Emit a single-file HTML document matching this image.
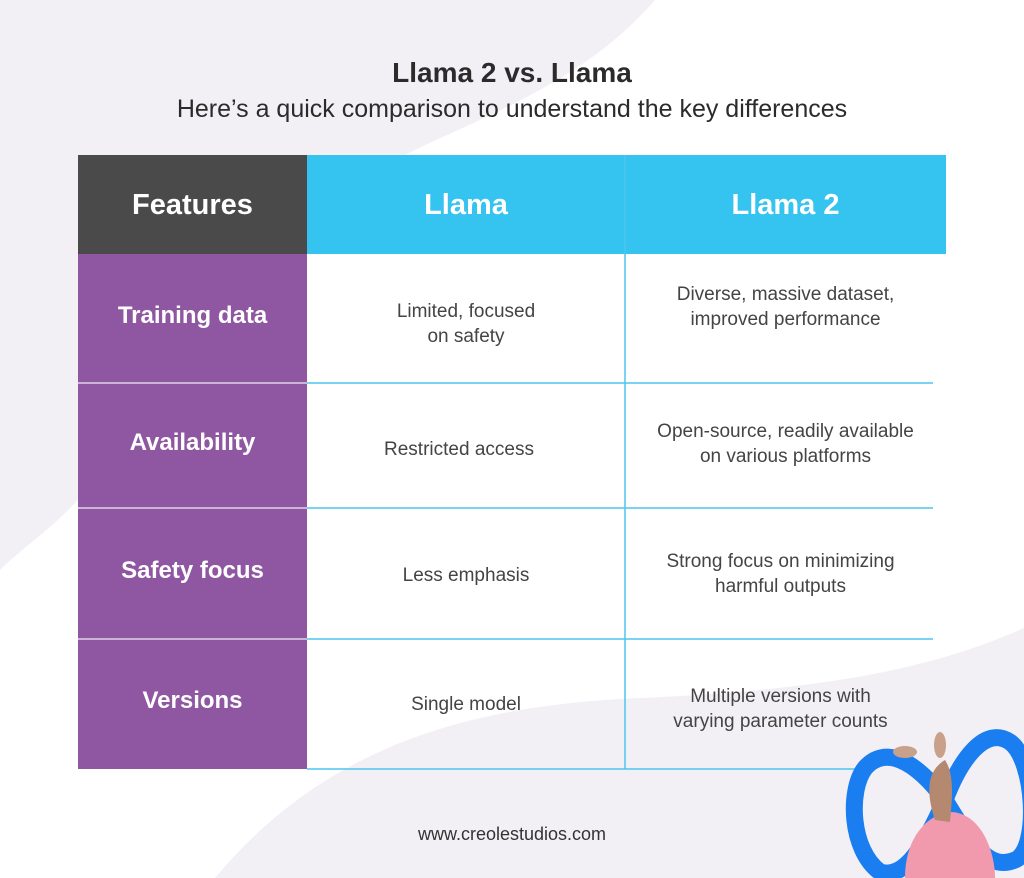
<!DOCTYPE html>
<html><head><meta charset="utf-8"><style>
body{margin:0;width:1024px;height:878px;overflow:hidden;background:#fff;position:relative;font-family:"Liberation Sans",sans-serif}
.a{position:absolute}
.t{position:absolute;text-align:center;display:flex;align-items:center;justify-content:center;line-height:1.3}
.h{color:#fff;font-weight:bold;font-size:29px}
.f{color:#fff;font-size:24px;font-weight:bold}
.c{color:#444;font-size:19px}
</style></head><body>
<svg class="a" style="left:0;top:0" width="1024" height="878">
<path d="M0,0 L655,0 C560,110 420,130 330,200 C250,270 150,430 78,500 C50,530 20,550 0,570 Z" fill="#f3f0f5"/>
<path d="M215,878 C330,740 480,705 640,698 C820,690 930,670 1024,628 L1024,878 Z" fill="#f3f0f5"/>
<rect x="78" y="155" width="229" height="99" fill="#4a4a4a"/>
<rect x="307" y="155" width="639" height="99" fill="#35c3ef"/>
<rect x="78" y="254" width="229" height="515" fill="#8f57a1"/>
<g stroke="#e0d3e6" stroke-width="1.5"><line x1="78" y1="383" x2="307" y2="383"/><line x1="78" y1="508" x2="307" y2="508"/><line x1="78" y1="639" x2="307" y2="639"/></g>
<g stroke="#4cc6ee" stroke-width="1.5" fill="none">
<line x1="625" y1="155" x2="625" y2="769"/>
<line x1="307" y1="383" x2="933" y2="383"/><line x1="307" y1="508" x2="933" y2="508"/><line x1="307" y1="639" x2="933" y2="639"/><line x1="307" y1="769" x2="860" y2="769"/>
</g>
<path d="M880,872 C850,850 848,790 865,768 C885,745 915,760 945,800 C975,850 990,870 1015,860 C1040,850 1035,760 1010,742 C985,725 960,760 945,800 C925,845 905,880 880,872 Z" fill="none" stroke="#1a7ef0" stroke-width="17"/>
<path d="M905,878 C905,840 925,815 950,812 C980,812 995,850 995,878 Z" fill="#f19aae"/>
<path d="M935,820 C925,790 928,770 945,760 C955,775 952,800 950,822 Z" fill="#b48970"/>
<ellipse cx="905" cy="752" rx="12" ry="6" fill="#c9a08a"/>
<ellipse cx="940" cy="745" rx="6" ry="13" fill="#c9a08a"/>
</svg>
<div class="t" style="left:0;top:54px;width:1024px;height:38px;font-size:28px;font-weight:bold;color:#2b2b2b">Llama 2 vs. Llama</div>
<div class="t" style="left:0;top:92px;width:1024px;height:34px;font-size:25px;color:#2b2b2b">Here’s a quick comparison to understand the key differences</div>
<div class="t h" style="left:78px;top:155px;width:229px;height:102px">Features</div>
<div class="t h" style="left:307px;top:155px;width:318px;height:102px">Llama</div>
<div class="t h" style="left:625px;top:155px;width:321px;height:102px">Llama 2</div>
<div class="t f" style="left:78px;top:254px;width:229px;height:124px">Training data</div>
<div class="t f" style="left:78px;top:383px;width:229px;height:120px">Availability</div>
<div class="t f" style="left:78px;top:508px;width:229px;height:126px">Safety focus</div>
<div class="t f" style="left:78px;top:639px;width:229px;height:124px">Versions</div>
<div class="t c" style="left:307px;top:290px;width:318px;height:70px">Limited, focused<br>on safety</div>
<div class="t c" style="left:625px;top:273px;width:321px;height:70px">Diverse, massive dataset,<br>improved performance</div>
<div class="t c" style="left:300px;top:430px;width:318px;height:40px">Restricted access</div>
<div class="t c" style="left:625px;top:410px;width:321px;height:70px">Open-source, readily available<br>on various platforms</div>
<div class="t c" style="left:307px;top:556px;width:318px;height:40px">Less emphasis</div>
<div class="t c" style="left:620px;top:540px;width:321px;height:70px">Strong focus on minimizing<br>harmful outputs</div>
<div class="t c" style="left:307px;top:685px;width:318px;height:40px">Single model</div>
<div class="t c" style="left:620px;top:675px;width:321px;height:70px">Multiple versions with<br>varying parameter counts</div>
<div class="t" style="left:0;top:820px;width:1024px;height:30px;font-size:18px;color:#333">www.creolestudios.com</div>
</body></html>
